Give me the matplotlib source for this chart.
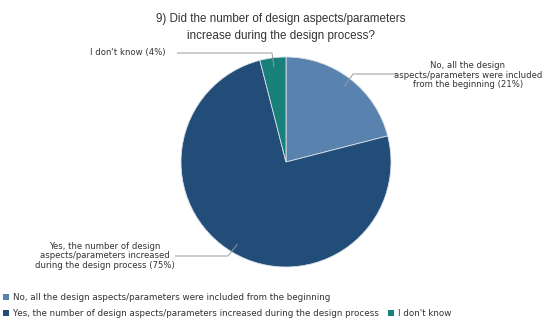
import numpy as np
import matplotlib
matplotlib.use("Agg")
import matplotlib.pyplot as plt

title = "9) Did the number of design aspects/parameters\nincrease during the design process?"
legend_labels = [
    "No, all the design aspects/parameters were included from the beginning",
    "Yes, the number of design aspects/parameters increased during the design process",
    "I don't know",
]
slice_labels = [
    "No, all the design\naspects/parameters were included\nfrom the beginning",
    "Yes, the number of design\naspects/parameters increased\nduring the design process",
    "I don't know",
]
shares = [21, 75, 4]
colors = ["#5a82ae", "#234d79", "#17807a"]

W, H = 547, 320
cx, cy, R = 286, 158, 105

fig = plt.figure(figsize=(W / 100, H / 100), dpi=100)
ax = fig.add_axes([0, 0, 1, 1])

wedges, _ = ax.pie(shares, colors=colors, startangle=90, counterclock=False,
                   center=(cx, cy), radius=R,
                   wedgeprops=dict(edgecolor="#d8e0e8", linewidth=0.6))
# pie() rescales the axes, so fix the pixel frame afterwards
ax.set_xlim(0, W)
ax.set_ylim(0, H)
ax.set_aspect("auto")
ax.axis("off")

fig.text(281 / W, 1 - 27.5 / H, title, ha="center", va="center",
         family="Liberation Sans", fontsize=8.4, color="#333333",
         linespacing=1.45)

# label text position (pixels), elbow point, text alignment
label_pos = [
    ((468, 75), (397, 74), (353, 74), "center"),
    ((105, 256), (175, 256), (228, 256), "center"),
    ((166, 52), (177, 53), (272, 53), "right"),
]

for w, lab, v, (tpos, p0, p1, ha) in zip(wedges, slice_labels, shares, label_pos):
    mid = np.deg2rad((w.theta1 + w.theta2) / 2)
    ax_x = cx + 0.91 * R * np.cos(mid)
    ax_y = cy + 0.91 * R * np.sin(mid)
    xs = [p0[0], p1[0], ax_x]
    ys = [H - p0[1], H - p1[1], ax_y]
    ax.plot(xs, ys, color="#9a9a9a", lw=0.7, solid_capstyle="butt")
    ax.text(tpos[0], H - tpos[1], f"{lab} ({v}%)", ha=ha, va="center",
            multialignment="center", fontsize=6.1, color="#333333",
            family="DejaVu Sans", linespacing=1.1)

# legend rows drawn by hand
rows = [(0, 297), (1, 313)]
for i, y in rows:
    ax.add_patch(plt.Rectangle((3, H - y - 3), 6, 6, color=colors[i], lw=0))
    ax.text(13, H - y, legend_labels[i], va="center", fontsize=6.3,
            color="#333333", family="DejaVu Sans")
ax.add_patch(plt.Rectangle((388, H - 313 - 3), 6, 6, color=colors[2], lw=0))
ax.text(398, H - 313, legend_labels[2], va="center", fontsize=6.3,
        color="#333333", family="DejaVu Sans")

fig.savefig("out.png", dpi=100)
